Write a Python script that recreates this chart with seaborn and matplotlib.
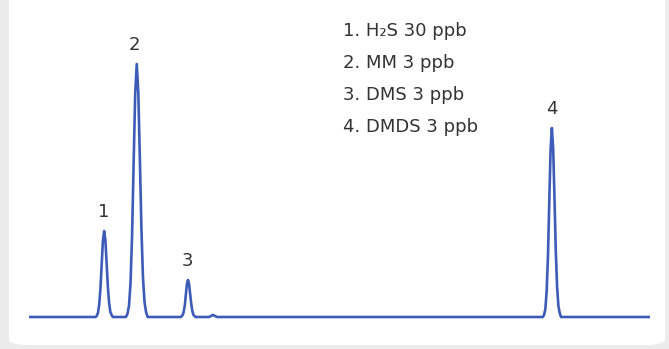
import numpy as np
import pandas as pd
import matplotlib.pyplot as plt
from matplotlib.patches import FancyBboxPatch
import seaborn as sns

# chromatogram trace (time in min, signal in arbitrary units)
time = [0.00,
        1.07, 1.09, 1.11, 1.13, 1.15, 1.17, 1.19, 1.21, 1.23, 1.25, 1.27, 1.29, 1.31, 1.33, 1.35,
        1.56, 1.585, 1.61, 1.635, 1.66, 1.685, 1.71, 1.735, 1.76, 1.785, 1.81, 1.835, 1.86, 1.885, 1.91,
        2.44, 2.455, 2.475, 2.49, 2.51, 2.525, 2.543, 2.56, 2.578, 2.595, 2.613, 2.63, 2.648, 2.665, 2.68,
        2.90, 2.93, 2.96, 2.99, 3.03,
        8.273, 8.294, 8.315, 8.336, 8.357, 8.378, 8.399, 8.42, 8.441, 8.462, 8.483, 8.504, 8.525, 8.546, 8.567,
        10.00]
signal = [0,
          0, 1, 4, 12, 28, 52, 76, 86, 77, 54, 30, 14, 5, 2, 0,
          0, 3, 11, 34, 82, 154, 223, 253, 225, 159, 89, 40, 15, 5, 0,
          0, 0.5, 2, 5, 12, 22, 33, 37, 33, 23, 13, 6, 2, 1, 0,
          0, 1, 2, 1.2, 0,
          0, 2, 8, 26, 61, 115, 167, 189, 168, 119, 66, 30, 11, 4, 0,
          0]

peak_labels = ["1", "2", "3", "4"]
peak_times = [1.21, 1.69, 2.55, 8.42]
peak_heights = [86, 253, 37, 189]

legend_lines = ["1. H\u2082S 30 ppb", "2. MM 3 ppb", "3. DMS 3 ppb", "4. DMDS 3 ppb"]

sns.set_style("white")
plt.rcParams['font.family'] = ['DejaVu Sans']

fig = plt.figure(figsize=(6.69, 3.49), dpi=100)
fig.patch.set_facecolor('#ececec')

# white rounded panel behind the axes
panel = FancyBboxPatch((9 / 669, 4 / 349), 656 / 669, 355 / 349,
                       boxstyle="round,pad=0,rounding_size=0.03",
                       transform=fig.transFigure, facecolor='white',
                       edgecolor='none', mutation_aspect=349 / 669, zorder=-5)
fig.patches.append(panel)

ax = fig.add_axes([29 / 669, 0, 621 / 669, 1])
ax.set_facecolor('none')
ax.set_zorder(2)

df = pd.DataFrame({'time': time, 'signal': signal})
sns.lineplot(data=df, x='time', y='signal', ax=ax, color='#3d5cb8',
             linewidth=1.9, sort=True, estimator=None, solid_joinstyle='round')

ax.set_xlim(0, 10)
ax.set_ylim(-32, 317)
ax.axis('off')

for lab, t, h in zip(peak_labels, peak_times, peak_heights):
    ax.text(t, h + 14, lab, ha='center', va='baseline', fontsize=13, color='#333333')

for i, line in enumerate(legend_lines):
    fig.text(343 / 669, 1 - (31 + i * 32) / 349, line, ha='left', va='center',
             fontsize=13, color='#333333')

fig.savefig('out.png', dpi=100, facecolor=fig.get_facecolor())
